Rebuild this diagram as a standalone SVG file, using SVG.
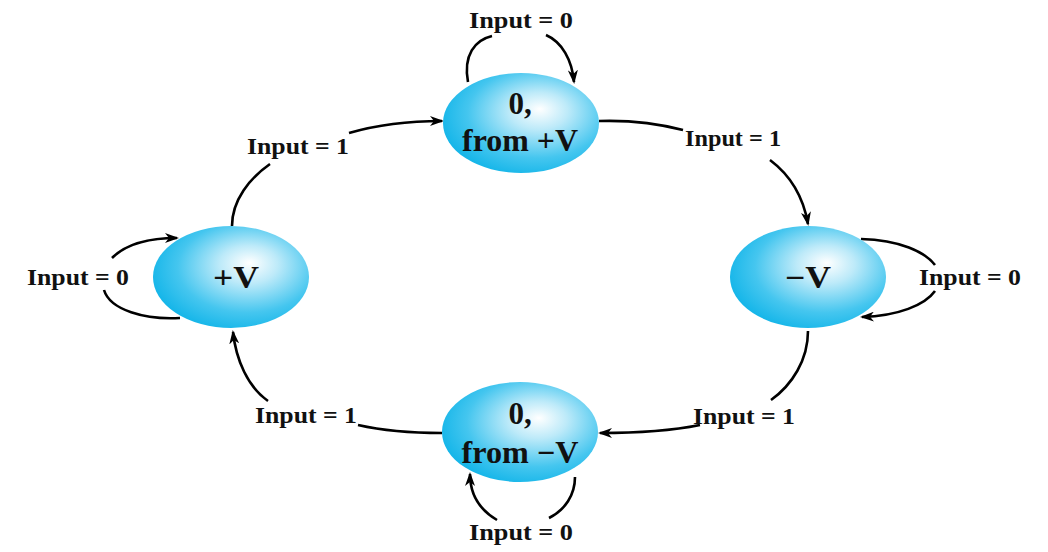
<svg xmlns="http://www.w3.org/2000/svg" width="1048" height="552" viewBox="0 0 1048 552">
<style>
.lbl{font-family:"Liberation Serif","Times New Roman",serif;font-weight:bold;font-size:23px;fill:#111;text-anchor:middle}
.nt{font-family:"Liberation Serif","Times New Roman",serif;font-weight:bold;font-size:31px;fill:#111;text-anchor:middle}
.c{fill:none;stroke:#000;stroke-width:2.6}
.node{fill:url(#g)}
</style>
<defs>
<radialGradient id="g" cx="0.6" cy="0.42" r="0.62" fx="0.62" fy="0.36">
<stop offset="0" stop-color="#ffffff"/>
<stop offset="0.3" stop-color="#bdeaf9"/>
<stop offset="0.72" stop-color="#45c6ef"/>
<stop offset="1" stop-color="#16b6e9"/>
</radialGradient>
<marker id="a" markerWidth="14" markerHeight="10" refX="12" refY="5" orient="auto" markerUnits="userSpaceOnUse">
<path d="M0,0 L14,5 L0,10 L4,5 z" fill="#000"/>
</marker>
</defs>
<g id="connectors">
<path class="c" d="M468,82 C463,55 475,40 492,36"/>
<path class="c" d="M546,35 C562,42 572,60 574,82" marker-end="url(#a)"/>
<path class="c" d="M599,121 C630,120 660,124 683,130"/>
<path class="c" d="M770,160 C790,175 803,195 808,224" marker-end="url(#a)"/>
<path class="c" d="M232,226 C232,200 250,178 270,164"/>
<path class="c" d="M349,133 C380,124 410,121 442,121" marker-end="url(#a)"/>
<path class="c" d="M112,258 C125,245 145,238 177,238" marker-end="url(#a)"/>
<path class="c" d="M104,290 C110,310 145,320 180,318"/>
<path class="c" d="M861,239 C900,240 925,252 935,265"/>
<path class="c" d="M935,291 C925,305 898,316 862,317" marker-end="url(#a)"/>
<path class="c" d="M808,331 C808,360 792,385 771,400"/>
<path class="c" d="M700,425 C670,431 635,433 600,433" marker-end="url(#a)"/>
<path class="c" d="M442,433 C410,433 380,430 358,425"/>
<path class="c" d="M268,401 C248,387 236,360 233,332" marker-end="url(#a)"/>
<path class="c" d="M575,477 C575,495 565,510 549,518"/>
<path class="c" d="M497,520 C480,510 470,495 470,474" marker-end="url(#a)"/>
</g>
<g id="n-zero-pos">
<ellipse class="node" cx="521" cy="123" rx="78" ry="50"/>
<text class="nt" x="520" y="114">0,</text>
<text class="nt" x="520" y="151" textLength="116" lengthAdjust="spacingAndGlyphs">from +V</text>
</g>
<g id="n-pos">
<ellipse class="node" cx="231" cy="277" rx="78" ry="51"/>
<text class="nt" x="236" y="288" textLength="46" lengthAdjust="spacingAndGlyphs">+V</text>
</g>
<g id="n-neg">
<ellipse class="node" cx="808" cy="277" rx="78" ry="51"/>
<text class="nt" x="808" y="288" textLength="46" lengthAdjust="spacingAndGlyphs">−V</text>
</g>
<g id="n-zero-neg">
<ellipse class="node" cx="520" cy="432" rx="78" ry="50"/>
<text class="nt" x="520" y="424">0,</text>
<text class="nt" x="520" y="463" textLength="117" lengthAdjust="spacingAndGlyphs">from −V</text>
</g>
<g id="labels">
<text class="lbl" x="521" y="28" textLength="104" lengthAdjust="spacingAndGlyphs">Input = 0</text>
<text class="lbl" x="298" y="154" textLength="102" lengthAdjust="spacingAndGlyphs">Input = 1</text>
<text class="lbl" x="733" y="146" textLength="96" lengthAdjust="spacingAndGlyphs">Input = 1</text>
<text class="lbl" x="78" y="285" textLength="102" lengthAdjust="spacingAndGlyphs">Input = 0</text>
<text class="lbl" x="970" y="285" textLength="102" lengthAdjust="spacingAndGlyphs">Input = 0</text>
<text class="lbl" x="306" y="423" textLength="102" lengthAdjust="spacingAndGlyphs">Input = 1</text>
<text class="lbl" x="744" y="424" textLength="102" lengthAdjust="spacingAndGlyphs">Input = 1</text>
<text class="lbl" x="521" y="540" textLength="104" lengthAdjust="spacingAndGlyphs">Input = 0</text>
</g>
</svg>
